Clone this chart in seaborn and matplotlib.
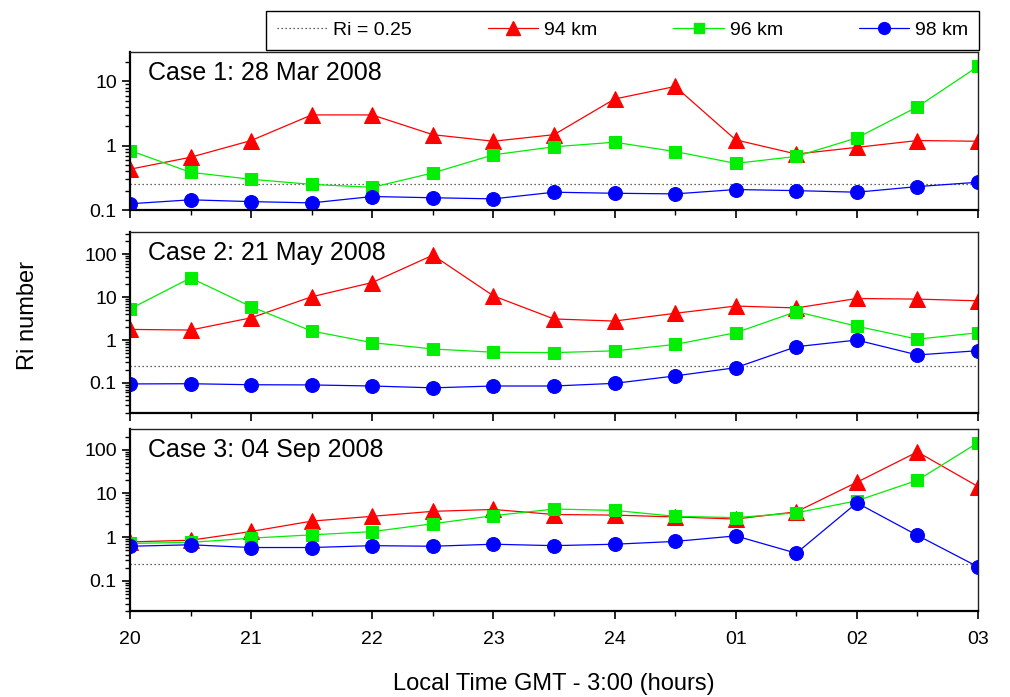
import numpy as np
import pandas as pd
import matplotlib
matplotlib.use("Agg")
import matplotlib.pyplot as plt
import seaborn as sns
from matplotlib.ticker import FixedLocator, FuncFormatter, LogLocator, NullFormatter
from matplotlib.lines import Line2D

# jam lokal (20 .. 03), setiap setengah jam
jam = [20.0, 20.5, 21.0, 21.5, 22.0, 22.5, 23.0, 23.5, 24.0, 24.5, 25.0, 25.5, 26.0, 26.5, 27.0]
label_jam = ["20", "21", "22", "23", "24", "01", "02", "03"]

# Case 1: 28 Mar 2008
c1_94 = [0.43, 0.66, 1.2, 3.0, 3.0, 1.48, 1.17, 1.48, 5.3, 8.3, 1.23, 0.74, 0.94, 1.2, 1.17]
c1_96 = [0.84, 0.385, 0.30, 0.25, 0.225, 0.377, 0.72, 0.96, 1.13, 0.81, 0.53, 0.68, 1.32, 4.0, 17.0]
c1_98 = [0.125, 0.144, 0.135, 0.129, 0.162, 0.155, 0.149, 0.189, 0.182, 0.178, 0.208, 0.20, 0.189, 0.231, 0.27]

# Case 2: 21 May 2008
c2_94 = [1.77, 1.71, 3.3, 10.2, 21.9, 95.0, 10.7, 3.1, 2.77, 4.2, 6.2, 5.6, 9.3, 9.0, 8.2]
c2_96 = [5.3, 28.0, 6.0, 1.62, 0.87, 0.62, 0.52, 0.51, 0.56, 0.79, 1.48, 4.6, 2.1, 1.05, 1.48]
c2_98 = [0.095, 0.096, 0.091, 0.09, 0.085, 0.077, 0.085, 0.085, 0.098, 0.146, 0.227, 0.70, 1.0, 0.45, 0.565]

# Case 3: 04 Sep 2008
c3_94 = [0.78, 0.85, 1.35, 2.33, 3.0, 3.9, 4.3, 3.3, 3.2, 2.9, 2.6, 3.8, 18.0, 89.0, 14.4]
c3_96 = [0.72, 0.76, 0.95, 1.13, 1.34, 2.03, 3.1, 4.4, 4.1, 3.0, 2.8, 3.6, 6.8, 20.0, 145.0]
c3_98 = [0.62, 0.67, 0.58, 0.58, 0.64, 0.62, 0.69, 0.64, 0.69, 0.80, 1.07, 0.43, 6.1, 1.1, 0.21]

judul = ["Case 1: 28 Mar 2008", "Case 2: 21 May 2008", "Case 3: 04 Sep 2008"]
ri_kritis = 0.25

sns.set_style("ticks")
plt.rcParams["font.family"] = ["Liberation Sans", "DejaVu Sans"]
plt.rcParams["text.color"] = "black"
plt.rcParams["xtick.color"] = "black"
plt.rcParams["ytick.color"] = "black"
plt.rcParams["axes.labelcolor"] = "black"

fig = plt.figure(figsize=(10.1, 6.97), dpi=100)
# posisi panel [kiri, bawah, lebar, tinggi]
posisi = [[0.1287, 0.6987, 0.8396, 0.2274],
          [0.1287, 0.4075, 0.8396, 0.2597],
          [0.1287, 0.1227, 0.8396, 0.2611]]
batas_y = [(0.1, 29), (0.02, 330), (0.02, 290)]
tick_y = [[0.1, 1, 10], [0.1, 1, 10, 100], [0.1, 1, 10, 100]]
data = [(c1_94, c1_96, c1_98), (c2_94, c2_96, c2_98), (c3_94, c3_96, c3_98)]
teks_y = [0.865, 0.885, 0.885]

gaya = [("94 km", "#ff0000", "^", 11.5), ("96 km", "#00ee00", "s", 8.5), ("98 km", "#0000ff", "o", 10)]

for i in range(3):
    ax = fig.add_axes(posisi[i])
    ax.axhline(ri_kritis, color="#333333", ls=(0, (1, 2.2)), lw=0.9)
    for (nama, warna, mk, ms), nilai in zip(gaya, data[i]):
        sns.lineplot(x=jam, y=nilai, ax=ax, color=warna, marker=mk, markersize=ms,
                     markeredgecolor=warna, lw=0.9, legend=False)
    ax.set_yscale("log")
    ax.set_ylim(*batas_y[i])
    ax.set_xlim(20, 27)
    ax.yaxis.set_major_locator(FixedLocator(tick_y[i]))
    ax.yaxis.set_major_formatter(FuncFormatter(lambda v, p: "{:g}".format(v)))
    ax.yaxis.set_minor_locator(LogLocator(base=10, subs=np.arange(2, 10), numticks=20))
    ax.yaxis.set_minor_formatter(NullFormatter())
    ax.set_xticks([20, 21, 22, 23, 24, 25, 26, 27])
    ax.set_xticks(jam, minor=True)
    if i == 2:
        ax.set_xticklabels(label_jam)
    else:
        ax.set_xticklabels([])
    ax.tick_params(axis="both", which="major", direction="out", length=6, width=1.2, labelsize=14)
    ax.tick_params(axis="both", which="minor", direction="out", length=3.5, width=1.0)
    ax.tick_params(axis="x", which="major", pad=8)
    for s in ax.spines.values():
        s.set_linewidth(1.0)
        s.set_color("#222222")
    ax.spines["bottom"].set_linewidth(1.6)
    ax.spines["left"].set_linewidth(1.6)
    ax.spines["bottom"].set_color("black")
    ax.spines["left"].set_color("black")
    ax.text(0.021, teks_y[i], judul[i], transform=ax.transAxes, fontsize=18, va="center", ha="left")
    ax.set_xlabel("")
    ax.set_ylabel("")

fig.text(0.028, 0.548, "Ri number", rotation=90, fontsize=17, va="center", ha="center")
fig.text(0.548, 0.019, "Local Time GMT - 3:00 (hours)", fontsize=17, va="center", ha="center")

handle = [Line2D([], [], color="#333333", ls=(0, (1, 2.2)), lw=0.9)]
for nama, warna, mk, ms in gaya:
    handle.append(Line2D([], [], color=warna, marker=mk, markersize=ms * 0.85, lw=0.9, markeredgecolor=warna))
leg = fig.legend(handle, ["Ri = 0.25", "94 km", "96 km", "98 km"], ncol=4,
                 bbox_to_anchor=(266 / 1010, 1 - 50 / 697, 713 / 1010, 38 / 697), loc="lower left",
                 mode="expand", fancybox=False, edgecolor="black", fontsize=14, borderaxespad=0,
                 borderpad=0.55, handlelength=2.6, handletextpad=0.3, framealpha=1)
leg.get_frame().set_linewidth(1.0)

fig.savefig("out.png", dpi=100)
